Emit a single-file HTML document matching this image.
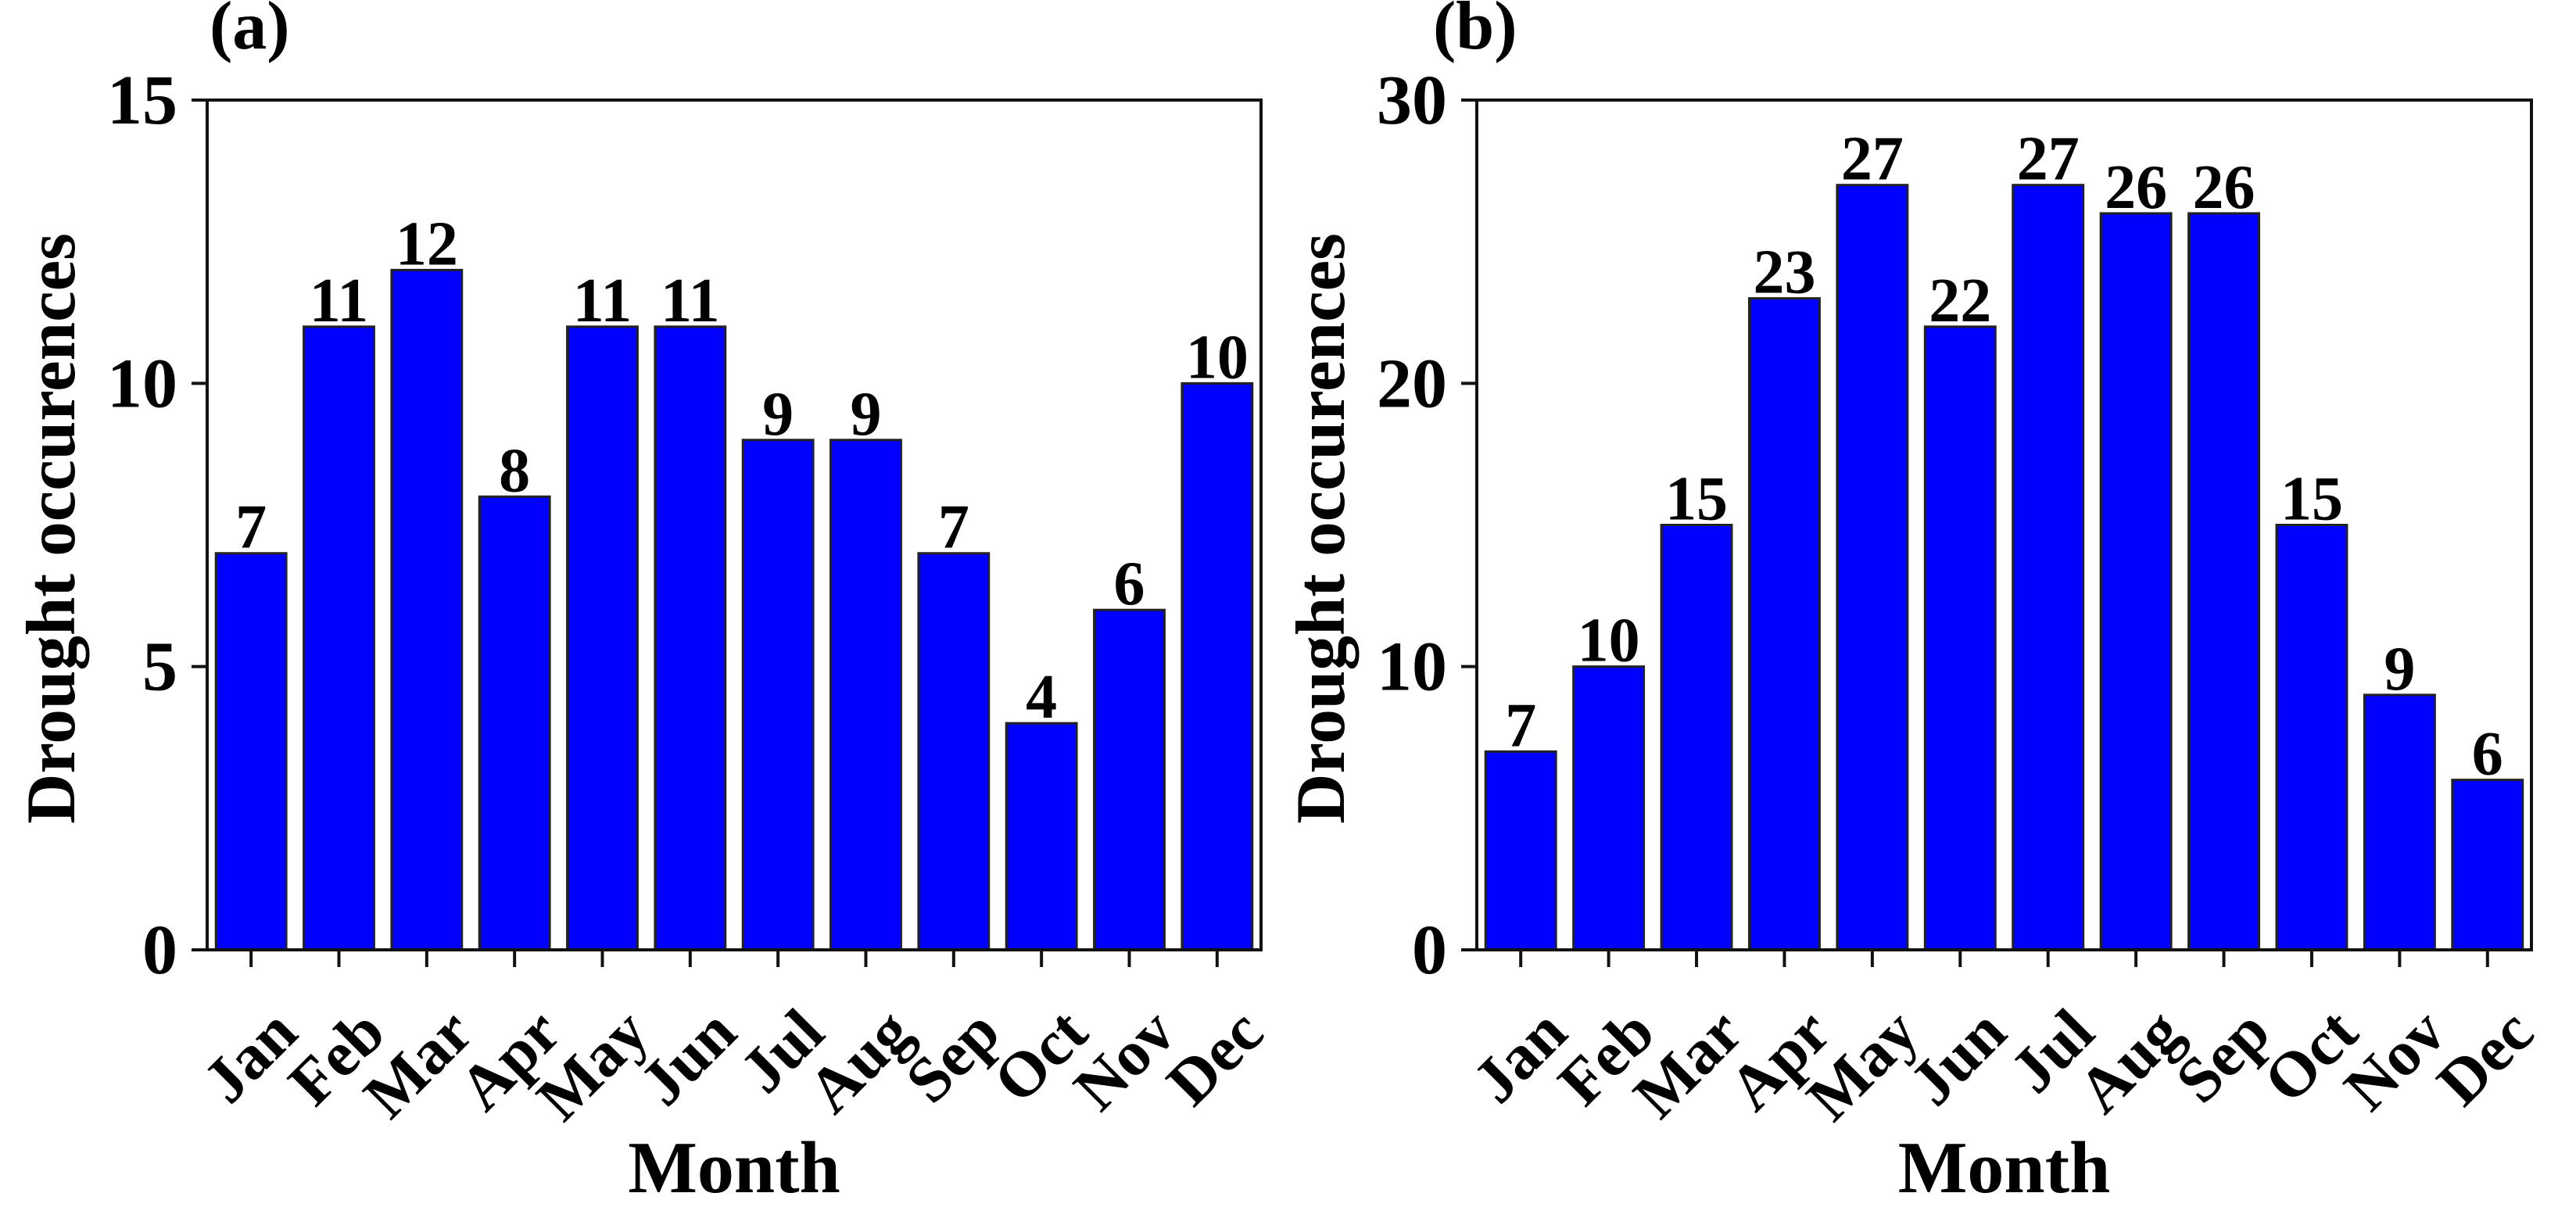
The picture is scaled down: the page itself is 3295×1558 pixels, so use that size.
<!DOCTYPE html>
<html><head><meta charset="utf-8"><style>
html,body{margin:0;padding:0;background:#fff;}
svg{display:block;font-family:"Liberation Serif","Times New Roman",serif;font-weight:bold;}
</style></head><body>
<svg id="fig" width="3295" height="1558" viewBox="0 0 3295 1558" xmlns="http://www.w3.org/2000/svg"></svg>
<script>
const months = ["Jan","Feb","Mar","Apr","May","Jun","Jul","Aug","Sep","Oct","Nov","Dec"];
const valuesA = [7,11,12,8,11,11,9,9,7,4,6,10];
const valuesB = [7,10,15,23,27,22,27,26,26,15,9,6];
const ticksA = [0,5,10,15];
const ticksB = [0,10,20,30];

const NS = "http://www.w3.org/2000/svg";
const svg = document.getElementById('fig');
function mk(tag, attrs, parent, text){
  const e = document.createElementNS(NS, tag);
  for (const k in attrs) e.setAttribute(k, attrs[k]);
  if (text !== undefined) e.textContent = text;
  (parent || svg).appendChild(e);
  return e;
}
function panel(id, left, right, vals, ticks, ymax, tag, tagX){
  const top = 128, bottom = 1215;
  const g = mk('g', {});
  
  
  const y = v => bottom - (v / ymax) * (bottom - top);
  const step = (right - left) / vals.length;
  const x = i => left + step * (i + 0.5);
  const bw = step * 0.8;
  vals.forEach((v, i) => {
    const r = mk('rect', {x: x(i) - bw/2, y: y(v), width: bw, height: bottom - y(v), fill: '#0000ff', stroke: '#222', 'stroke-width': 3}, g);
    
    
    const t = mk('text', {x: x(i), y: y(v) - 7, 'text-anchor': 'middle', 'font-size': 80}, g, String(v));
    
    
    mk('line', {x1: x(i), x2: x(i), y1: bottom, y2: bottom + 22, stroke: '#111', 'stroke-width': 4}, g);
    const lx = x(i) + 63, ly = 1325;
    const ml = mk('text', {x: lx, y: ly, 'text-anchor': 'end', 'font-size': 82, transform: 'rotate(-45 ' + lx + ' ' + ly + ')'}, g, months[i]);
    
    
  });
  ticks.forEach(tv => {
    mk('line', {x1: left - 20, x2: left, y1: y(tv), y2: y(tv), stroke: '#111', 'stroke-width': 4}, g);
    const tl = mk('text', {x: left - 38, y: y(tv) + 30, 'text-anchor': 'end', 'font-size': 90}, g, String(tv));
    
    
  });
  const fr = mk('rect', {x: left, y: top, width: right - left, height: bottom - top, fill: 'none', stroke: '#111', 'stroke-width': 4}, g);
  
  
  const yt = mk('text', {x: 0, y: 0, 'text-anchor': 'middle', 'font-size': 89, transform: 'translate(' + (left - 170) + ' 676) rotate(-90)'}, g, 'Drought occurences');
  
  
  const xt = mk('text', {x: (left + right) / 2, y: 1525, 'text-anchor': 'middle', 'font-size': 94}, g, 'Month');
  
  
  const pt = mk('text', {x: tagX, y: 62, 'font-size': 88}, g, tag);
  
  
}
panel('a', 265, 1613, valuesA, ticksA, 15, '(a)', 268);
panel('b', 1889, 3238, valuesB, ticksB, 30, '(b)', 1833);
</script>
</body></html>
